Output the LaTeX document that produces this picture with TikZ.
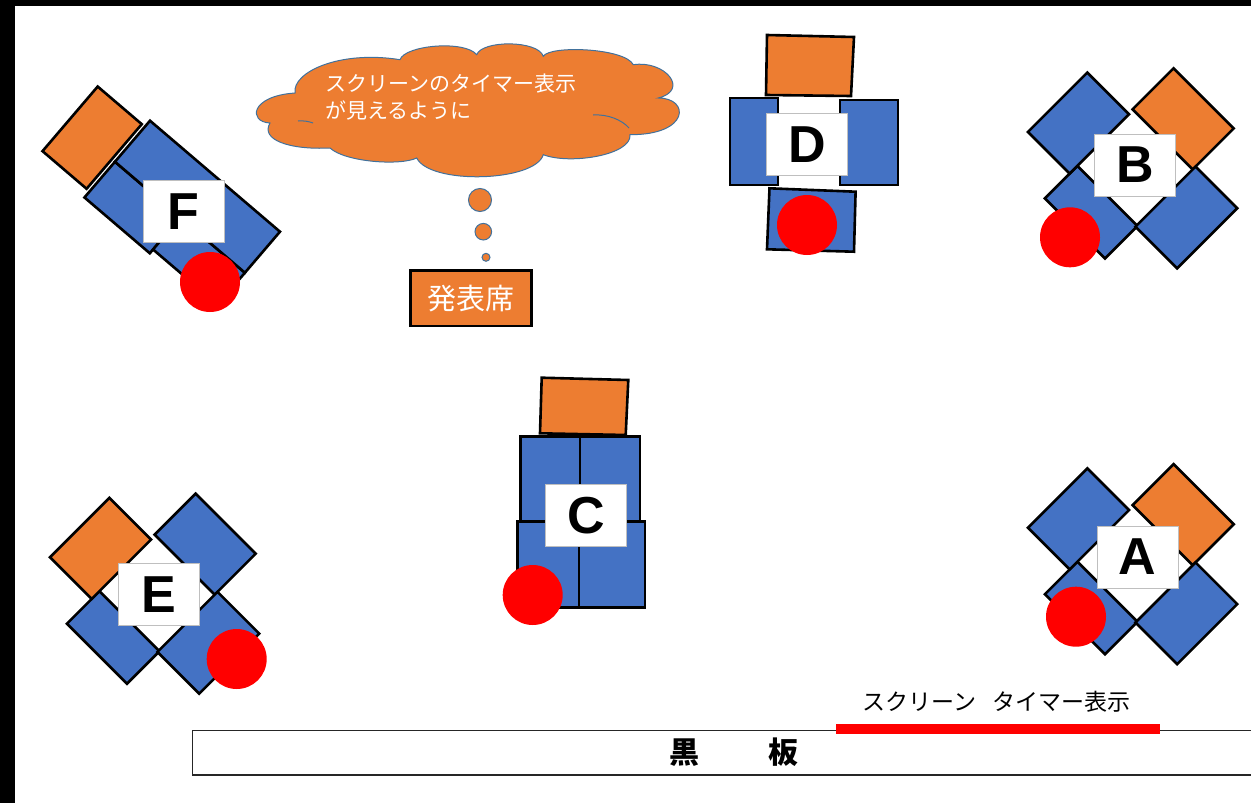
\documentclass[tikz,border=0pt]{standalone}
\usepackage{fontspec}
\setmainfont{Liberation Sans}
\newfontfamily\jp{Noto Sans CJK JP}
\definecolor{deskblue}{HTML}{4472C4}
\definecolor{deskorange}{HTML}{ED7D31}
\definecolor{cloudedge}{HTML}{41719C}
\newcommand\xisland[4]{%
  \begin{scope}[shift={(#1,#2)},x={(0.7071pt,-0.7071pt)},y={(-0.7071pt,-0.7071pt)}]
    \draw[desk] (-42,38) -- (43,38) -- (43,84) -- (-42,84) -- cycle;
    \draw[#3] (-101,-35) -- (-42,-35) -- (-42,49) -- (-101,49) -- cycle;
    \draw[#4] (-43,-99) -- (42,-99) -- (42,-41) -- (-43,-41) -- cycle;
    \draw[desk] (42,-45) -- (101,-45) -- (101,40) -- (42,40) -- cycle;
  \end{scope}}
\begin{document}
\begin{tikzpicture}[x=1pt,y=-1pt,
  desk/.style={fill=deskblue,draw=black,line width=2.6pt,line join=miter},
  lead/.style={fill=deskorange,draw=black,line width=2.6pt,line join=miter},
  seat/.style={fill=red},
  tag/.style={rectangle,fill=white,draw=black!25,line width=1pt,minimum width=81pt,minimum height=62pt,inner sep=0pt,font=\fontsize{52}{52}\selectfont\bfseries},
  bubble/.style={circle,fill=deskorange,draw=cloudedge,line width=1pt,inner sep=0pt},
  cloudline/.style={draw=cloudedge,line width=1pt}]
\useasboundingbox (0,0) rectangle (1251,803);
\fill[white] (0,0) rectangle (1251,803);
\fill[black] (0,0) rectangle (1251,6);
\fill[black] (0,0) rectangle (15,803);

% group F
\begin{scope}[shift={(150,120.7)},x={(0.760pt,-0.649pt)},y={(-0.649pt,-0.760pt)}]
  \draw[desk] (0,54) -- (86,54) -- (86,101) -- (0,101) -- cycle;
  \draw[desk] (86,54) -- (171,54) -- (171,96) -- (86,96) -- cycle;
  \draw[desk] (0,0) -- (171,0) -- (171,54) -- (0,54) -- cycle;
  \draw[lead] (-62,8) -- (-4,8) -- (-4,93) -- (-62,93) -- cycle;
\end{scope}
\node[tag] (F) at (183.5,211.5) {F};
\fill[seat] (210,282) circle[radius=30pt];

% group D
\draw[lead] (767,35) -- (854,37) -- (851,96) -- (766,95) -- cycle;
\draw[desk] (730,98) rectangle (778,185);
\draw[desk] (840,100) rectangle (898,185);
\draw[desk] (769.5,188.3) -- (855.6,191.7) -- (854,251.7) -- (767,249.3) -- cycle;
\node[tag] (D) at (807,144.5) {D};
\fill[seat] (807,225) circle[radius=30pt];

% group C
\draw[desk] (520.7,436.7) rectangle (580,521.7);
\draw[desk] (580,436.7) rectangle (640,521.7);
\draw[desk] (517.7,521.7) rectangle (579,607.7);
\draw[desk] (579,521.7) rectangle (645,607.7);
\draw[lead] (541.7,377.7) -- (628.3,380) -- (625.7,435) -- (540,433.3) -- cycle;
\node[tag] (C) at (585.8,515.3) {C};
\fill[seat] (532.7,595) circle[radius=30pt];

% groups B, A, E
\xisland{1134}{168.7}{desk}{lead}
\node[tag] (B) at (1135,165) {B};
\fill[seat] (1070,237.3) circle[radius=30pt];
\xisland{1134}{564.5}{desk}{lead}
\node[tag] (A) at (1137.5,557) {A};
\fill[seat] (1076,616.7) circle[radius=30pt];
\xisland{156}{594}{lead}{desk}
\node[tag] (E) at (158.8,594.2) {E};
\fill[seat] (236.7,659) circle[radius=30pt];

% thought cloud
\filldraw[fill=deskorange,cloudline]
  (270,123) .. controls (248,122) and (250,96) .. (295,93)
  .. controls (292,72) and (340,50) .. (400,59.7)
  .. controls (405,45) and (465,40) .. (476.7,54.7)
  .. controls (482,40) and (538,40) .. (543.3,56.3)
  .. controls (550,45) and (625,48) .. (633.3,64.7)
  .. controls (665,60) and (690,90) .. (658.3,98)
  .. controls (690,98) and (690,135) .. (630,134.7)
  .. controls (632,155) and (570,165) .. (543.3,154.7)
  .. controls (535,182) and (430,185) .. (416.7,158)
  .. controls (400,166) and (345,162) .. (330,148)
  .. controls (290,150) and (260,140) .. (270,123) -- cycle;
\draw[cloudline] (593,115) .. controls (608,114) and (622,120) .. (629,128);
\draw[cloudline] (298,121) .. controls (304,120.5) and (309,121.5) .. (313,123);
\node[anchor=north west,align=left,text=white,inner sep=0pt,font=\jp\fontsize{21}{26.7}\selectfont] (msg) at (325,74) {スクリーンのタイマー表示\\が見えるように};
\node[bubble,minimum size=23pt] (b1) at (480,200) {};
\node[bubble,minimum size=16.6pt] (b2) at (483.3,231.7) {};
\node[bubble,minimum size=8pt] (b3) at (486,257.3) {};
\node[fill=deskorange,draw=black,line width=2.5pt,minimum width=121pt,minimum height=55.5pt,inner sep=0pt,text=white,font=\jp\fontsize{29}{29}\selectfont] (podium) at (471,298.3) {発表席};

% blackboard
\draw[black!85,line width=1.5pt] (1262,730.7) -- (192.4,730.7) -- (192.4,775) -- (1262,775);
\node[font=\jp\bfseries\fontsize{30}{30}\selectfont] (board) at (734,752) {黒\hspace{70pt}板};
\draw[red,line width=10pt] (836,728.5) -- (1160,728.5);
\node[font=\jp\fontsize{23}{23}\selectfont] (screen) at (996.5,701.7) {スクリーン\hspace{16pt}タイマー表示};
\end{tikzpicture}
\end{document}
